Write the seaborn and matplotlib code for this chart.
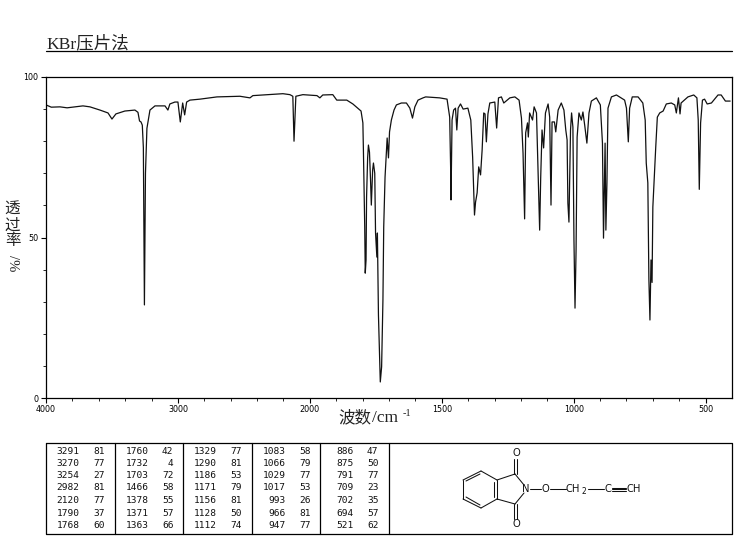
import numpy as np
import pandas as pd
import matplotlib
matplotlib.use("Agg")
import matplotlib.pyplot as plt
import seaborn as sns

# Spectrum, (wavenumber, transmittance)
high_region = [(4000, 91.3), (3960, 90.6), (3894, 90.7), (3840, 90.4), (3780, 90.7), (3720, 91), (3667, 90.7), (3591, 89.7),
               (3530, 88.8), (3500, 86.9), (3470, 88.5), (3402, 89.4), (3326, 89.7), (3303, 89), (3291, 86.3),
               (3280, 86), (3270, 85), (3262, 78), (3254, 29), (3246, 70), (3235, 84), (3212, 89.7), (3174, 91),
               (3098, 91), (3076, 89.7), (3061, 91.6), (3023, 92.2), (3000, 92.2), (2982, 86), (2964, 91.9),
               (2949, 88.2), (2934, 92.2), (2909, 92.8), (2833, 93.1), (2704, 93.8), (2530, 94), (2454, 93.5),
               (2432, 94.2), (2204, 94.8), (2151, 94.5), (2129, 94), (2120, 80), (2106, 94), (2053, 94.5)]
carbonyl_region = [(1973, 94.2), (1962, 93.5), (1951, 94.4), (1913, 94.5), (1898, 92.8), (1860, 92.8), (1837, 91.6),
                   (1806, 89.4), (1799, 85.7), (1797, 77.3), (1792, 53.3), (1790, 38.9), (1787, 43), (1785, 62.6),
                   (1781, 74.8), (1778, 78.8), (1774, 76.6), (1770, 67.9), (1767, 60.1), (1762, 71), (1759, 73.2),
                   (1754, 70), (1751, 51.4), (1746, 43.9), (1744, 51.4), (1740, 25.9), (1733, 5), (1728, 9.7),
                   (1723, 30.5), (1720, 53.3), (1715, 68.8), (1707, 81), (1702, 74.8), (1698, 82.9), (1691, 86.6),
                   (1681, 89.7), (1672, 91.3), (1653, 91.9), (1634, 91.9), (1621, 90.3), (1611, 87.2), (1602, 90.7),
                   (1590, 92.8), (1571, 93.5), (1561, 93.8), (1508, 93.5), (1480, 93.1)]
mid_region = [(1470, 87.5), (1466, 70), (1465, 61.7), (1461, 86.6), (1455, 89.7), (1448, 90.3), (1443, 83.5),
              (1438, 90.3), (1429, 91.6), (1419, 90), (1401, 90.3), (1390, 86.6), (1383, 75), (1378, 62.3),
              (1376, 57), (1372, 61), (1366, 63.9), (1360, 72), (1353, 69.5), (1347, 77.3), (1341, 88.8),
              (1336, 88.5), (1331, 79.8), (1325, 88.5), (1318, 91.9), (1299, 92.2), (1292, 84.1), (1285, 93.5),
              (1274, 93.8), (1265, 91.9), (1242, 93.5), (1223, 93.8), (1207, 92.8), (1198, 87.2), (1192, 76.3),
              (1186, 55.8), (1182, 82.6), (1175, 85.7), (1172, 81.3), (1167, 88.8), (1156, 86.6), (1150, 90.7),
              (1141, 88.8), (1129, 52.3), (1125, 68.8), (1120, 83.5), (1114, 77.9), (1107, 88.8), (1097, 91.6),
              (1091, 87.5), (1086, 60.1), (1082, 86), (1073, 86), (1068, 82.9), (1059, 89.7), (1047, 91.9),
              (1037, 89.7), (1030, 83.5), (1025, 80.4), (1022, 60.7), (1018, 54.8), (1012, 83.5), (1008, 88.8)]
low_region = [(1003, 84.4), (999, 49.2), (995, 28), (991, 46), (987, 81.3), (980, 88.8), (971, 86.6), (965, 89.1),
              (958, 84.8), (950, 79.4), (942, 88.8), (933, 92.5), (914, 93.5), (899, 91.3), (891, 79.4), (887, 49.8),
              (881, 79.4), (878, 52.3), (874, 67), (870, 90.3), (857, 93.8), (838, 94.4), (807, 92.8), (800, 90.3),
              (793, 79.8), (788, 90.3), (778, 93.8), (756, 93.8), (738, 91.9), (729, 86.6), (725, 73.2), (719, 67),
              (715, 37), (711, 24.3), (707, 43), (703, 36), (700, 59.5), (696, 66.4), (689, 78.2), (683, 87.5),
              (674, 88.8), (661, 89.4), (649, 91.6), (630, 91.9), (617, 91.3), (611, 88.8), (603, 93.5), (597, 88.5),
              (593, 91.9), (567, 93.8), (545, 94.4), (533, 93.5), (528, 86.6), (524, 65), (519, 85.7), (512, 92.8),
              (504, 93.1), (494, 91.6), (478, 91.9), (453, 94.4), (441, 94.4), (425, 92.5), (407, 92.5)]

# Peak table, one list per column
peak_wn = [[3291, 3270, 3254, 2982, 2120, 1790, 1768],
           [1760, 1732, 1703, 1466, 1378, 1371, 1363],
           [1329, 1290, 1186, 1171, 1156, 1128, 1112],
           [1083, 1066, 1029, 1017, 993, 966, 947],
           [886, 875, 791, 709, 702, 694, 521]]
peak_t = [[81, 77, 27, 81, 77, 37, 60],
          [42, 4, 72, 58, 55, 57, 66],
          [77, 81, 53, 79, 81, 50, 74],
          [58, 79, 77, 53, 26, 81, 77],
          [47, 50, 77, 23, 35, 57, 62]]

x_major = [4000, 3000, 2000, 1500, 1000, 500]
y_major = [0, 50, 100]

W, H = 737, 539
SERIF = ["Liberation Serif", "Noto Sans CJK SC"]
CJK = ["Noto Sans CJK SC", "DejaVu Sans"]
INK = "#111111"

sns.set_theme(style="ticks", rc={"axes.linewidth": 0.9, "axes.edgecolor": "black"})

fig = plt.figure(figsize=(W / 100, H / 100), dpi=100)


# IR charts use a stretched scale below 2000
def forward(w):
    w = np.asarray(w, dtype=float)
    return np.where(w <= 2000, w, 2000 + (w - 2000) / 2)


def inverse(v):
    v = np.asarray(v, dtype=float)
    return np.where(v <= 2000, v, 2000 + (v - 2000) * 2)


ax = fig.add_axes([46 / W, (H - 398) / H, 686 / W, 321 / H])
ax.set_xscale("function", functions=(forward, inverse))

df = pd.DataFrame(high_region + carbonyl_region + mid_region + low_region, columns=["wn", "t"])
sns.lineplot(data=df, x="wn", y="t", ax=ax, sort=False, estimator=None, color=INK, linewidth=0.9)

ax.set_xlim(4000, 400)
ax.set_ylim(0, 100)
ax.set_xlabel("")
ax.set_ylabel("")
ax.set_xticks(x_major)
ax.set_xticklabels([str(v) for v in x_major])
ax.set_xticks(list(range(3800, 2000, -200)) + list(range(1900, 400, -100)), minor=True)
ax.set_yticks(y_major)
ax.set_yticklabels([str(v) for v in y_major])
ax.set_yticks([v for v in range(10, 100, 10) if v != 50], minor=True)
ax.tick_params(which="major", length=3.6, width=0.8, labelsize=5.8, pad=1.8, colors="black")
ax.tick_params(which="minor", length=2, width=0.7)
for s in ax.spines.values():
    s.set_visible(True)

# Overlay in pixel units for title rule, table and structure
ov = fig.add_axes([0, 0, 1, 1], zorder=5)
ov.set_xlim(0, W)
ov.set_ylim(H, 0)
ov.axis("off")
ov.patch.set_alpha(0)

ov.text(46, 48.5, "KBr压片法", fontsize=12.6, family=SERIF, color="#222222", va="baseline")
ov.plot([46, 732], [50.5, 50.5], color="black", lw=0.9)

# Y label, stacked upright characters
for ch, yc in zip("透过率", [209, 225, 241]):
    ov.text(12.5, yc, ch, fontsize=11.2, family=CJK, color="#222222", ha="center", va="center")
ov.text(12.5, 263, "/%", fontsize=10.5, family=SERIF, color="#222222", rotation=-90, ha="center", va="center")

# X label
ov.text(338, 422, "波数", fontsize=11.9, family=CJK, color="#222222", va="baseline")
ov.text(372, 422, "/cm", fontsize=12.5, family=SERIF, color="#222222", va="baseline")
ov.text(403, 416, "-1", fontsize=7.5, family=SERIF, color="#222222", va="baseline")

# Peak table
col_x = [46, 115, 183, 252, 320, 389, 732]
row_y = [451, 463, 475.5, 488, 500.5, 513, 525]
ov.plot([46, 732, 732, 46, 46], [442.5, 442.5, 533.5, 533.5, 442.5], color="black", lw=0.9)
for x in col_x[1:-1]:
    ov.plot([x, x], [442.5, 533.5], color="black", lw=0.9)
for i in range(5):
    for y, a, b in zip(row_y, peak_wn[i], peak_t[i]):
        ov.text(col_x[i] + 33.5, y, str(a), fontsize=6.8, family="DejaVu Sans Mono", ha="right", va="center", color=INK)
        ov.text(col_x[i] + 58.5, y, str(b), fontsize=6.8, family="DejaVu Sans Mono", ha="right", va="center", color=INK)

# Structure
bonds = [[(481, 471), (497, 480)], [(497, 480), (497, 499)], [(497, 499), (481, 508)], [(481, 508), (463, 499)],
         [(463, 499), (463, 480)], [(463, 480), (481, 471)],
         [(480, 474), (466, 481)], [(466, 497), (480, 505)], [(494, 482), (494, 497)],
         [(497, 480), (515, 474)], [(497, 499), (515, 504)], [(515, 474), (524, 485)], [(515, 504), (524, 493)],
         [(514, 474), (514, 459)], [(517, 474), (517, 459)], [(514, 504), (514, 519)], [(517, 504), (517, 519)],
         [(530, 489), (541, 489)], [(550, 489), (566, 489)], [(588, 489), (604, 489)],
         [(612, 487.5), (626, 487.5)], [(612, 489), (626, 489)], [(612, 490.5), (626, 490.5)]]
for (x0, y0), (x1, y1) in bonds:
    ov.plot([x0, x1], [y0, y1], color=INK, lw=0.75)
labels = [(516, 453, "O"), (516, 524, "O"), (526, 489, "N"), (545, 489, "O"), (573, 489, "CH"), (608, 489, "C"),
          (634, 489, "CH")]
for x, y, s in labels:
    ov.text(x, y, s, fontsize=7.2, family="DejaVu Sans", ha="center", va="center", color=INK)
ov.text(583.5, 492, "2", fontsize=5.5, family="DejaVu Sans", ha="center", va="center", color=INK)

fig.savefig("out.png", dpi=100)
